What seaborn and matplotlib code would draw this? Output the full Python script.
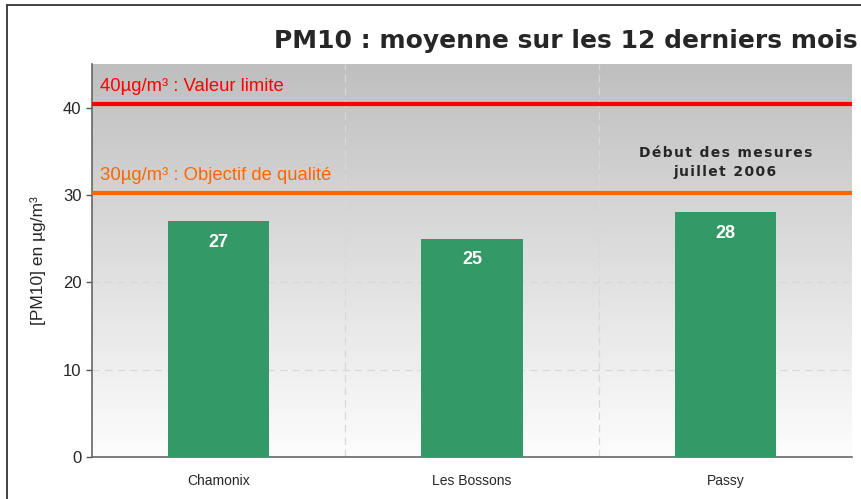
import numpy as np
import pandas as pd
import matplotlib
matplotlib.use('Agg')
import matplotlib.pyplot as plt
import seaborn as sns
from matplotlib.patches import Rectangle

# data
sites = ['Chamonix', 'Les Bossons', 'Passy']
pm10_mean = [27, 25, 28]
valeur_limite = 40
objectif_qualite = 30
y_ticks = [0, 10, 20, 30, 40]

df = pd.DataFrame({'site': sites, 'pm10': pm10_mean})

sns.set_style('white')
plt.rcParams['font.family'] = ['Liberation Sans', 'DejaVu Sans']


def spaced(text):
    # small letter spacing with hair spaces
    return '\n'.join('\u200a'.join(line) for line in text.split('\n'))


fig = plt.figure(figsize=(8.61, 4.99), dpi=100)
ax = fig.add_axes([92 / 861, 42 / 499, 760 / 861, 393 / 499])

# outer frame
fig.patches.append(Rectangle((7 / 861, -0.1), 1.2, (499 - 5) / 499 + 0.1,
                             transform=fig.transFigure, fill=False,
                             edgecolor='#333333', linewidth=1.3))

ymax = 45
# gradient background
grad = np.linspace(0, 1, 256).reshape(-1, 1)
cmap = matplotlib.colors.LinearSegmentedColormap.from_list('bg', ['#fdfdfd', '#bfbfbf'])
ax.imshow(grad, extent=(-0.5, 2.5, 0, ymax), origin='lower', aspect='auto',
          cmap=cmap, zorder=0)

sns.barplot(data=df, x='site', y='pm10', color='#339966', width=0.4,
            saturation=1, linewidth=0, ax=ax, zorder=3)

ax.set_xlim(-0.5, 2.5)
ax.set_ylim(0, ymax)
ax.set_yticks(y_ticks)

# grid
for y in y_ticks[1:-1]:
    ax.axhline(y, color='#d8d8d8', linestyle=(0, (6, 4)), linewidth=0.9, zorder=1)
for x in [0.5, 1.5]:
    ax.axvline(x, color='#d8d8d8', linestyle=(0, (6, 4)), linewidth=0.9, zorder=1)

# threshold lines
ax.axhline(valeur_limite + 0.4, color='#ff0000', linewidth=3, zorder=4)
ax.axhline(objectif_qualite + 0.2, color='#ff6600', linewidth=3, zorder=4)
ax.text(-0.47, valeur_limite + 2.4, '40µg/m³ : Valeur limite', color='#ff0000',
        fontsize=13.3, va='center', ha='left', zorder=5)
ax.text(-0.47, objectif_qualite + 2.2, '30µg/m³ : Objectif de qualité', color='#ff6600',
        fontsize=13.3, va='center', ha='left', zorder=5)
ax.text(2.0, 33.7, spaced('Début des mesures\njuillet 2006'),
        ha='center', va='center', fontsize=10, fontweight='bold',
        family=['DejaVu Sans'], linespacing=1.45, zorder=5)

# bar values
for i, v in enumerate(pm10_mean):
    ax.text(i, v - 2.4, str(v), color='white', fontsize=13, fontweight='bold',
            ha='center', va='center', zorder=5)

ax.set_xlabel('')
ax.set_ylabel('[PM10] en µg/m³', fontsize=12.5, labelpad=12)
ax.tick_params(axis='y', labelsize=12, length=4, width=1, direction='out', left=True, color='#555555')
ax.tick_params(axis='x', labelsize=10, length=0, pad=12)

for s in ['top', 'right']:
    ax.spines[s].set_visible(False)
ax.spines['left'].set_color('#666666')
ax.spines['bottom'].set_color('#666666')
ax.spines['left'].set_linewidth(1.2)
ax.spines['bottom'].set_linewidth(1.2)

fig.text(858 / 861, 1 - 41 / 499, 'PM10 : moyenne sur les 12 derniers mois',
         ha='right', va='center', fontsize=18, fontweight='bold',
         family='DejaVu Sans')

fig.savefig('out.png', dpi=100)
